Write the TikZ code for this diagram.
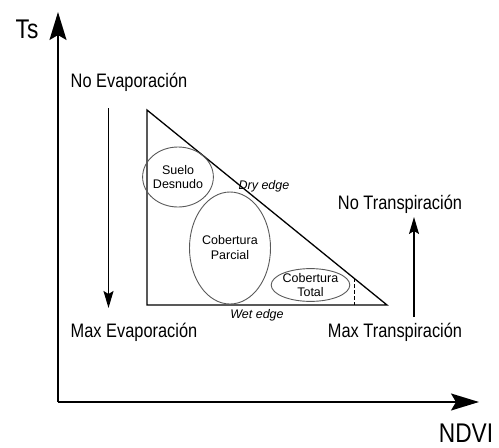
\documentclass[tikz,border=0pt]{standalone}
\usepackage{fontspec}
\setmainfont{Liberation Sans}
\newfontfamily\narrowfont[FakeStretch=0.84]{Liberation Sans}
\usetikzlibrary{arrows.meta,shapes.geometric}
\begin{document}
\begin{tikzpicture}[x=1pt,y=-1pt,
  axis/.style={line width=1.8pt,-{Stealth[length=28pt,width=17pt,inset=5pt]}},
  flow/.style={line width=1.2pt,-{Stealth[length=17pt,width=10pt,inset=3pt]}},
  biglbl/.style={font=\narrowfont\fontsize{19.5}{21}\selectfont,inner sep=0pt},
  axlbl/.style={font=\narrowfont\fontsize{27}{29}\selectfont,inner sep=0pt},
  small/.style={font=\fontsize{12.5}{14}\selectfont,align=center,inner sep=0pt},
  zone/.style={ellipse,draw=black!65,line width=0.9pt,inner sep=0pt,font=\fontsize{12.5}{14}\selectfont,align=center},
  edge/.style={line width=1.3pt,black}]
\useasboundingbox (0,0) rectangle (499,448);
% axes
\coordinate (O) at (58,402);
\coordinate (Ytip) at (58,12);
\coordinate (Xtip) at (479,402);
\draw[axis] (O) -- (Ytip);
\draw[axis] (O) -- (Xtip);
\node[axlbl] (ts) at (27,29) {Ts};
\node[axlbl] (ndvi) at (466,433) {NDVI};
% triangle
\coordinate (A) at (147,110);
\coordinate (B) at (147,305);
\coordinate (C) at (387,305);
\draw[edge] (A) -- (B) -- (C) -- cycle;
\coordinate (D1) at (354,278.2);
\coordinate (D2) at (354,305);
\draw[line width=1pt,dash pattern=on 3.5pt off 2.5pt] (D1) -- (D2);
% zones
\node[zone,minimum width=55pt,minimum height=60pt] (suelo) at (178,177) {Suelo\\Desnudo};
\node[zone,minimum width=81pt,minimum height=112pt] (parcial) at (230,248) {Cobertura\\[1pt]Parcial};
\node[zone,minimum width=73pt,minimum height=30pt] (total) at (310.5,285) {Cobertura\\Total};
\node[small,font=\itshape\fontsize{12.5}{14}\selectfont] (dry) at (264,186) {Dry edge};
\node[small,font=\itshape\fontsize{12.5}{14}\selectfont] (wet) at (257,315) {Wet edge};
% labels
\node[biglbl] (noevap) at (129,82) {No Evaporación};
\node[biglbl] (maxevap) at (134,332) {Max Evaporación};
\node[biglbl] (notrans) at (400,204) {No Transpiración};
\node[biglbl] (maxtrans) at (395,332) {Max Transpiración};
% flow arrows
\coordinate (E1) at (108.5,108);
\coordinate (E2) at (108.5,308);
\draw[flow] (E1) -- (E2);
\coordinate (T1) at (414,317);
\coordinate (T2) at (414,217);
\draw[flow] (T1) -- (T2);
\end{tikzpicture}
\end{document}
